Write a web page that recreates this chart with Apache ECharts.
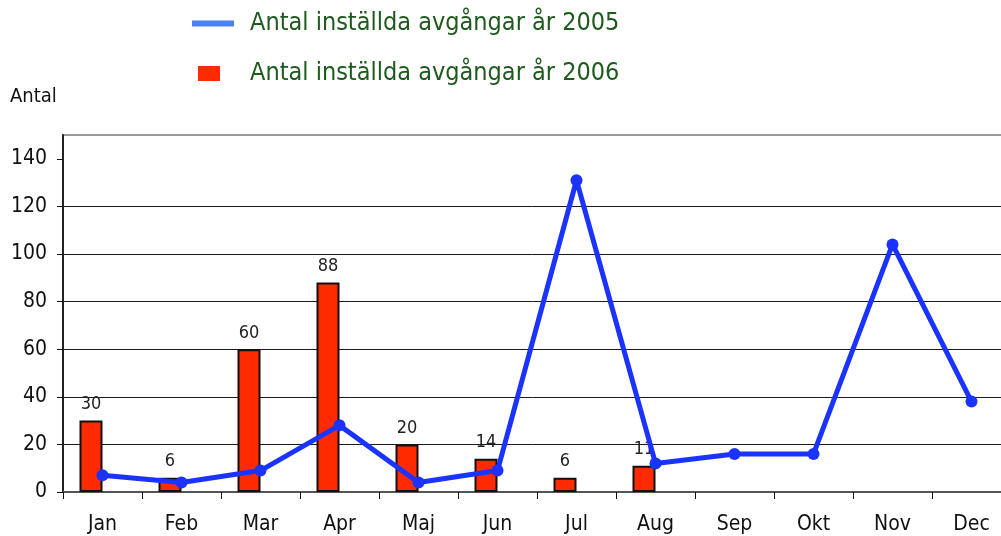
<!DOCTYPE html>
<html>
<head>
<meta charset="utf-8">
<script src="https://cdn.jsdelivr.net/npm/echarts@6/dist/echarts.min.js"></script>
<style>
  html, body { margin: 0; padding: 0; background: #fff; }
  #chart { width: 1001px; height: 536px; }
</style>
</head>
<body>
<div id="chart"></div>
<script>
  // månader + värden
  const months = ["Jan", "Feb", "Mar", "Apr", "Maj", "Jun", "Jul", "Aug", "Sep", "Okt", "Nov", "Dec"];
  const cancelled2005 = [7, 4, 9, 28, 4, 9, 131, 12, 16, 16, 104, 38];
  const cancelled2006 = [30, 6, 60, 88, 20, 14, 6, 11, null, null, null, null];
  const yTickValues = [0, 20, 40, 60, 80, 100, 120, 140];
  const yMax = 150;

  const NAME_2005 = "Antal inställda avgångar år 2005";
  const NAME_2006 = "Antal inställda avgångar år 2006";
  const FONT = "'Liberation Sans Narrow', 'DejaVu Sans Condensed', 'Arial Narrow', sans-serif";

  const chart = echarts.init(document.getElementById("chart"), null, { renderer: "canvas" });

  chart.setOption({
    animation: false,
    textStyle: { fontFamily: FONT },
    title: {
      text: "Antal",
      left: 5,
      top: 82,
      textStyle: { fontFamily: FONT, fontSize: 20, fontWeight: "normal", color: "#111" },
    },
    legend: [
      {
        data: [{ name: NAME_2005, icon: "rect", itemStyle: { color: "#4d80f5" } }],
        left: 187,
        top: 6,
        itemWidth: 42,
        itemHeight: 6,
        textStyle: { fontFamily: FONT, fontSize: 25, color: "#1e5a1e", padding: [0, 0, 0, 11] },
      },
      {
        data: [{ name: NAME_2006, icon: "rect", itemStyle: { color: "#ff2a00", borderWidth: 0 } }],
        left: 193,
        top: 56,
        itemWidth: 22,
        itemHeight: 15,
        textStyle: { fontFamily: FONT, fontSize: 25, color: "#1e5a1e", padding: [0, 0, 0, 25] },
      },
    ],
    grid: {
      show: true,
      left: 63,
      width: 948,
      top: 135,
      bottom: 44,
      outerBoundsMode: "none",
      borderColor: "#9a9a9a",
      borderWidth: 2,
      backgroundColor: "transparent",
    },
    xAxis: {
      type: "category",
      data: months,
      boundaryGap: true,
      axisLine: { show: true, lineStyle: { color: "#555", width: 2 } },
      axisTick: { show: true, length: 7, lineStyle: { color: "#111" } },
      axisLabel: { color: "#111", fontSize: 21, fontFamily: FONT, margin: 22 },
      splitLine: { show: false },
    },
    yAxis: {
      type: "value",
      min: 0,
      max: yMax,
      interval: 20,
      axisLine: { show: true, lineStyle: { color: "#222", width: 2 } },
      axisTick: { show: true, length: 6, customValues: yTickValues, lineStyle: { color: "#111" } },
      axisLabel: {
        color: "#111",
        fontSize: 21,
        fontFamily: FONT,
        margin: 16,
        customValues: yTickValues,
      },
      splitLine: { show: true, showMinLine: false, showMaxLine: false, lineStyle: { color: "#1a1a1a", width: 1 } },
    },
    series: [
      {
        name: NAME_2006,
        type: "bar",
        data: cancelled2006,
        barWidth: 23,
        barGap: "0%",
        itemStyle: { color: "#ff2a00", borderColor: "#111", borderWidth: 2 },
        label: {
          show: true,
          position: "top",
          distance: 7,
          color: "#222",
          fontSize: 18,
          fontFamily: FONT,
        },
        z: 2,
      },
      {
        // tom platshållare så att staplarna hamnar till vänster om kategorimitten
        name: "_pad",
        type: "bar",
        data: months.map(() => null),
        barWidth: 23,
        barGap: "0%",
        silent: true,
      },
      {
        name: NAME_2005,
        type: "line",
        data: cancelled2005,
        symbol: "circle",
        symbolSize: 12,
        lineStyle: { color: "#1a33ff", width: 5 },
        itemStyle: { color: "#1a33ff" },
        z: 5,
      },
    ],
  });
</script>
</body>
</html>
